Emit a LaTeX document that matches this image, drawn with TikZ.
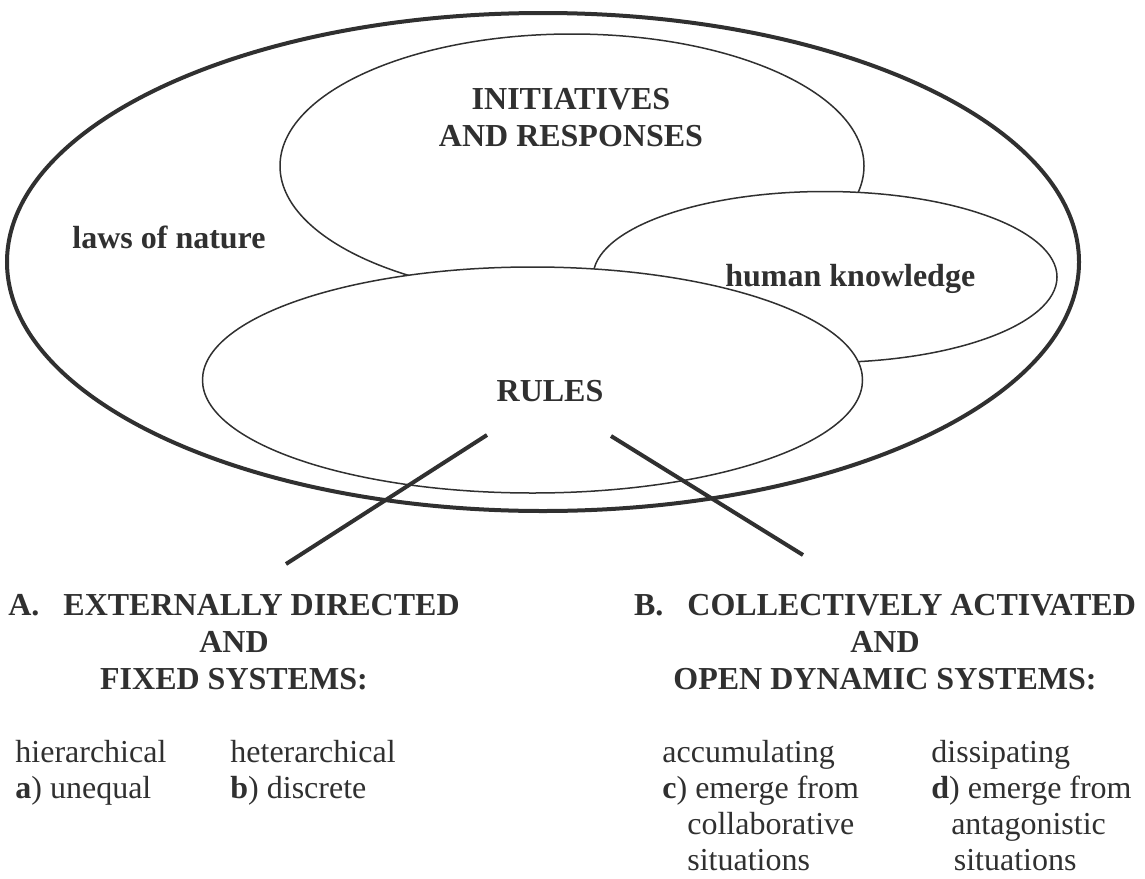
\documentclass[tikz,border=0pt]{standalone}
\usepackage{fontspec}
\setmainfont{Liberation Serif}
\usetikzlibrary{shapes.geometric}
\definecolor{ink}{HTML}{303030}

\begin{document}
\begin{tikzpicture}[
    x=0.5pt, y=-0.5pt,
    region/.style={ellipse, draw=ink, line width=0.75pt, fill=white, inner sep=0pt},
    title/.style={font=\fontsize{16}{18.5}\selectfont\bfseries, text=ink, inner sep=0pt, align=center},
    item/.style={font=\fontsize{16}{18}\selectfont, text=ink, inner sep=0pt, align=left, anchor=base west},
    link/.style={draw=ink, line width=2pt}
]
\useasboundingbox (0,0) rectangle (1145,878);

% --- Nested regions ---
\node[region, line width=2pt, minimum width=536pt, minimum height=249pt] (nature) at (543,262) {};
\node[region, minimum width=292pt, minimum height=132pt] (initiatives) at (572,166) {};
\node[region, minimum width=232pt, minimum height=85.5pt] (knowledge) at (825,277) {};
\node[region, minimum width=330pt, minimum height=113pt] (rules) at (532.5,380) {};

% Region labels (base = last line)
\node[title, anchor=base] (initlabel) at (571,146.5) {INITIATIVES\\AND RESPONSES};
\node[title, anchor=base west] (naturelabel) at (72,248.5) {laws of nature};
\node[title, anchor=base west] (knowlabel) at (725,286) {human knowledge};
\node[title, anchor=base] (ruleslabel) at (550,401) {RULES};

% --- Branches out of the rules ---
\coordinate (ruleA) at (487,435);
\coordinate (endA) at (286,564);
\coordinate (ruleB) at (611,436);
\coordinate (endB) at (803,555);
\draw[link] (ruleA) -- (endA);
\draw[link] (ruleB) -- (endB);

% --- A. Systems ---
\node[title, anchor=base] (sysA) at (234,689) {A.\hspace{0.75em}EXTERNALLY DIRECTED\\AND\\FIXED SYSTEMS:};
\node[item] (typeA) at (15,798) {hierarchical\\\textbf{a}) unequal};
\node[item] (typeB) at (230,798) {heterarchical\\\textbf{b}) discrete};

% --- B. Systems ---
\node[title, anchor=base] (sysB) at (885,689) {B.\hspace{0.75em}COLLECTIVELY ACTIVATED\\AND\\OPEN DYNAMIC SYSTEMS:};
\node[item] (typeC) at (662,870) {accumulating\\\textbf{c}) emerge from\\\hspace{0.78em}collaborative\\\hspace{0.78em}situations};
\node[item] (typeD) at (931,870) {dissipating\\\textbf{d}) emerge from\\\hspace{0.62em}antagonistic\\\hspace{0.7em}situations};

\end{tikzpicture}
\end{document}
